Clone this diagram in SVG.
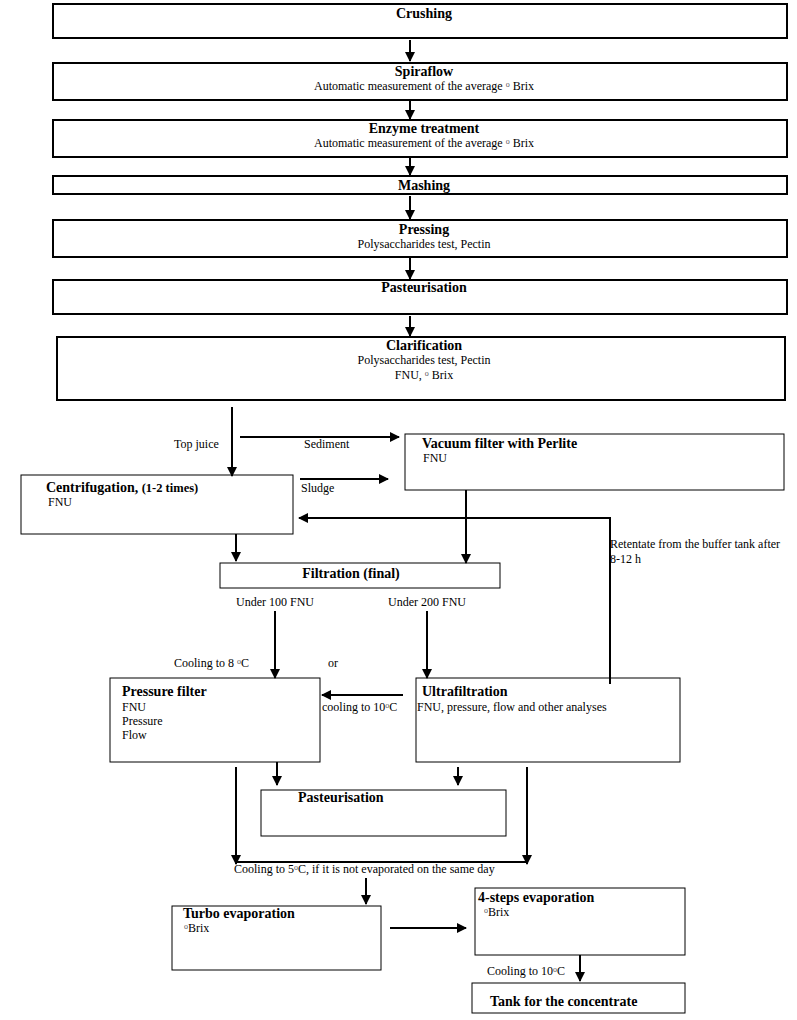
<svg xmlns="http://www.w3.org/2000/svg" width="797" height="1020" viewBox="0 0 797 1020">
<style>
.bx{fill:#fff;stroke:#000;stroke-width:2}
.bt{fill:#fff;stroke:#000;stroke-width:1}
.t{font-family:"Liberation Serif","Times New Roman",serif;font-size:14px;font-weight:bold;fill:#000}
.s{font-family:"Liberation Serif","Times New Roman",serif;font-size:12px;fill:#000}
.d{font-size:8px;fill:#555}
.c{text-anchor:middle}
.ln{stroke:#000;stroke-width:2;fill:none}
</style>
<defs>
<marker id="ah" viewBox="0 0 10 10" refX="9" refY="5" markerWidth="5" markerHeight="5" orient="auto" markerUnits="strokeWidth">
<path d="M0,0 L10,5 L0,10 z" fill="#000"/>
</marker>
</defs>
<rect width="797" height="1020" fill="#fff"/>

<g id="crushing"><rect class="bx" x="53" y="4" width="734" height="34"/><text class="t c" x="424" y="18">Crushing</text></g>
<g id="spiraflow"><rect class="bx" x="53" y="63" width="734" height="37"/><text class="t c" x="424" y="76">Spiraflow</text><text class="s c" x="424" y="90">Automatic measurement of the average <tspan class="d" dy="-3">o</tspan><tspan dy="3"> Brix</tspan></text></g>
<g id="enzyme"><rect class="bx" x="53" y="120" width="734" height="37"/><text class="t c" x="424" y="133">Enzyme treatment</text><text class="s c" x="424" y="147">Automatic measurement of the average <tspan class="d" dy="-3">o</tspan><tspan dy="3"> Brix</tspan></text></g>
<g id="mashing"><rect class="bx" x="53" y="176" width="734" height="18"/><text class="t c" x="424" y="190">Mashing</text></g>
<g id="pressing"><rect class="bx" x="53" y="220" width="734" height="37"/><text class="t c" x="424" y="234">Pressing</text><text class="s c" x="424" y="248">Polysaccharides test, Pectin</text></g>
<g id="pasteurisation1"><rect class="bx" x="53" y="280" width="734" height="34"/><text class="t c" x="424" y="292">Pasteurisation</text></g>
<g id="clarification"><rect class="bx" x="57" y="337" width="728" height="63"/><text class="t c" x="424" y="350">Clarification</text><text class="s c" x="424" y="364">Polysaccharides test, Pectin</text><text class="s c" x="424" y="379">FNU, <tspan class="d" dy="-3">o</tspan><tspan dy="3"> Brix</tspan></text></g>

<g id="vacuum"><rect class="bt" x="405" y="434" width="379" height="56"/><text class="t" x="422" y="448">Vacuum filter with Perlite</text><text class="s" x="423" y="462">FNU</text></g>
<g id="centrifugation"><rect class="bt" x="21" y="475" width="272" height="59"/><text class="t" x="46" y="492">Centrifugation, <tspan font-size="12.5">(1-2 times)</tspan></text><text class="s" x="48" y="506">FNU</text></g>
<g id="filtration"><rect class="bt" x="220" y="563" width="280" height="25"/><text class="t c" x="351" y="578">Filtration (final)</text></g>
<g id="pressurefilter"><rect class="bt" x="110" y="678" width="210" height="84"/><text class="t" x="122" y="696">Pressure filter</text><text class="s" x="122" y="711">FNU</text><text class="s" x="122" y="725">Pressure</text><text class="s" x="122" y="739">Flow</text></g>
<g id="ultrafiltration"><rect class="bt" x="416" y="678" width="264" height="84"/><text class="t" x="422" y="696">Ultrafiltration</text><text class="s" x="417" y="711">FNU, pressure, flow and other analyses</text></g>
<g id="pasteurisation2"><rect class="bt" x="261" y="790" width="245" height="46"/><text class="t" x="298" y="802">Pasteurisation</text></g>
<g id="turbo"><rect class="bt" x="172" y="906" width="209" height="64"/><text class="t" x="183" y="918">Turbo evaporation</text><text class="s" x="184" y="932"><tspan class="d" dy="-3">o</tspan><tspan dy="3">Brix</tspan></text></g>
<g id="foursteps"><rect class="bt" x="475" y="888" width="210" height="67"/><text class="t" x="478" y="902">4-steps evaporation</text><text class="s" x="484" y="916"><tspan class="d" dy="-3">o</tspan><tspan dy="3">Brix</tspan></text></g>
<g id="tank"><rect class="bt" x="472" y="983" width="213" height="30"/><text class="t" x="490" y="1006">Tank for the concentrate</text></g>

<g id="connectors">
<line class="ln" x1="410" y1="40" x2="410" y2="61" marker-end="url(#ah)"/>
<line class="ln" x1="410" y1="100" x2="410" y2="119" marker-end="url(#ah)"/>
<line class="ln" x1="410" y1="157" x2="410" y2="175" marker-end="url(#ah)"/>
<line class="ln" x1="410" y1="196" x2="410" y2="219" marker-end="url(#ah)"/>
<line class="ln" x1="410" y1="258" x2="410" y2="279" marker-end="url(#ah)"/>
<line class="ln" x1="410" y1="316" x2="410" y2="336" marker-end="url(#ah)"/>
<line class="ln" x1="232" y1="407" x2="232" y2="476" marker-end="url(#ah)"/>
<line class="ln" x1="240" y1="437" x2="399" y2="437" marker-end="url(#ah)"/>
<line class="ln" x1="300" y1="479" x2="388" y2="479" marker-end="url(#ah)"/>
<polyline class="ln" points="610,684 610,518 299,518" marker-end="url(#ah)"/>
<line class="ln" x1="236" y1="534" x2="236" y2="561" marker-end="url(#ah)"/>
<line class="ln" x1="466" y1="490" x2="466" y2="563" marker-end="url(#ah)"/>
<line class="ln" x1="275" y1="611" x2="275" y2="678" marker-end="url(#ah)"/>
<line class="ln" x1="427" y1="611" x2="427" y2="678" marker-end="url(#ah)"/>
<line class="ln" x1="403" y1="695" x2="322" y2="695" marker-end="url(#ah)"/>
<line class="ln" x1="236" y1="767" x2="236" y2="864" marker-end="url(#ah)"/>
<line class="ln" x1="277" y1="762" x2="277" y2="785" marker-end="url(#ah)"/>
<line class="ln" x1="458" y1="767" x2="458" y2="785" marker-end="url(#ah)"/>
<line class="ln" x1="527" y1="767" x2="527" y2="864" marker-end="url(#ah)"/>
<line class="ln" x1="236" y1="862" x2="527" y2="862"/>
<line class="ln" x1="366" y1="878" x2="366" y2="904" marker-end="url(#ah)"/>
<line class="ln" x1="390" y1="928" x2="466" y2="928" marker-end="url(#ah)"/>
<line class="ln" x1="580" y1="955" x2="580" y2="981" marker-end="url(#ah)"/>
<text class="s" x="174" y="448">Top juice</text>
<text class="s" x="304" y="448">Sediment</text>
<text class="s" x="301" y="492">Sludge</text>
<text class="s" x="610" y="548">Retentate from the buffer tank after</text>
<text class="s" x="610" y="563">8-12 h</text>
<text class="s" x="236" y="606">Under 100 FNU</text>
<text class="s" x="388" y="606">Under 200 FNU</text>
<text class="s" x="174" y="667">Cooling to 8 <tspan class="d" dy="-3">o</tspan><tspan dy="3">C</tspan></text>
<text class="s" x="328" y="667">or</text>
<text class="s" x="322" y="711">cooling to 10<tspan class="d" dy="-3">o</tspan><tspan dy="3">C</tspan></text>
<text class="s" x="234" y="873">Cooling to 5<tspan class="d" dy="-3">o</tspan><tspan dy="3">C, if it is not evaporated on the same day</tspan></text>
<text class="s" x="487" y="975">Cooling to 10<tspan class="d" dy="-3">o</tspan><tspan dy="3">C</tspan></text>
</g>
</svg>
